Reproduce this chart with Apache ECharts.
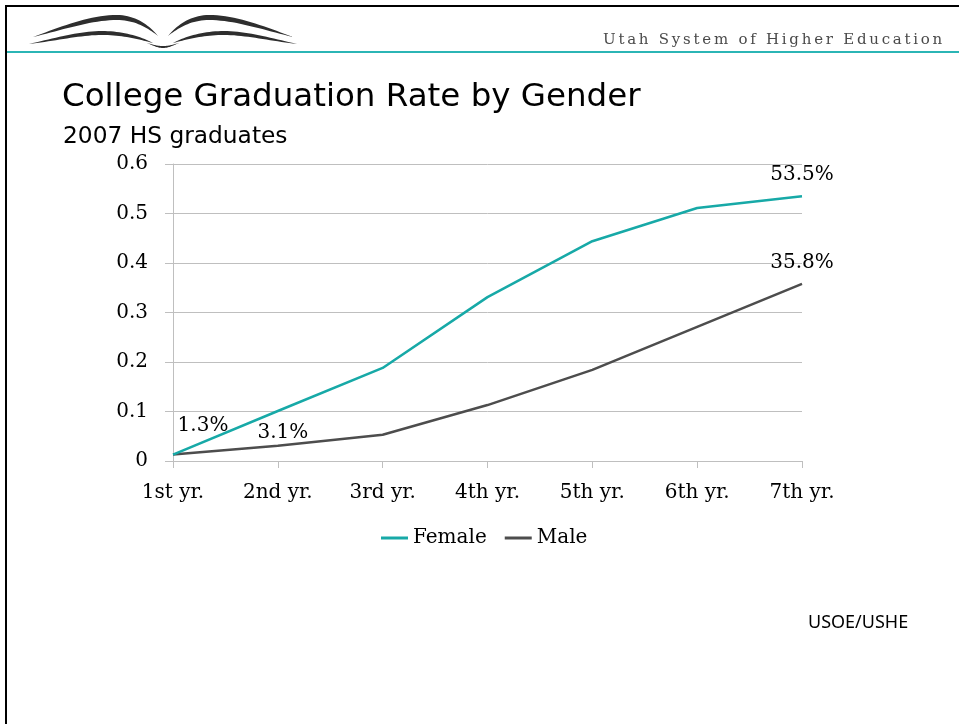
<!DOCTYPE html>
<html>
<head>
<meta charset="utf-8">
<script src="https://cdn.jsdelivr.net/npm/echarts@6/dist/echarts.min.js"></script>
<style>
html,body{margin:0;padding:0;background:#fff;}
#wrap{position:relative;width:959px;height:724px;overflow:hidden;}
#chart{position:absolute;left:0;top:0;width:959px;height:724px;}
#hdr{position:absolute;left:603px;top:30px;font-family:"DejaVu Serif",serif;font-size:15px;letter-spacing:2.75px;color:#4a4a4a;white-space:nowrap;}
</style>
</head>
<body>
<div id="wrap">
<div id="chart"></div>
<div id="hdr">Utah System of Higher Education</div>
</div>
<script>
const categories = ['1st yr.', '2nd yr.', '3rd yr.', '4th yr.', '5th yr.', '6th yr.', '7th yr.'];
const femaleValues = [0.013, 0.101, 0.188, 0.331, 0.444, 0.511, 0.535];
const maleValues = [0.013, 0.031, 0.053, 0.113, 0.184, 0.271, 0.358];
const yTicks = [0, 0.1, 0.2, 0.3, 0.4, 0.5, 0.6];

const serif = '"DejaVu Serif", serif';
const sans = '"DejaVu Sans", sans-serif';

function labelled(values, marks) {
  return values.map((v, i) => {
    if (!(i in marks)) return v;
    return {
      value: v,
      label: {
        show: true, position: 'top', distance: 5, offset: marks[i],
        fontFamily: serif, fontSize: 20, color: '#000',
        formatter: p => (p.value * 100).toFixed(1) + '%'
      }
    };
  });
}

// sample a closed shape made of cubic bezier segments into polygon points (logo decoration)
function bez(p0, c1, c2, p1, n) {
  const out = [];
  for (let k = 0; k <= n; k++) {
    const t = k / n, u = 1 - t;
    out.push([
      u*u*u*p0[0] + 3*u*u*t*c1[0] + 3*u*t*t*c2[0] + t*t*t*p1[0],
      u*u*u*p0[1] + 3*u*u*t*c1[1] + 3*u*t*t*c2[1] + t*t*t*p1[1]
    ]);
  }
  return out;
}
function shape(segs) {
  let pts = [];
  segs.forEach(s => { pts = pts.concat(bez(s[0], s[1], s[2], s[3], 20)); });
  return pts;
}
function mirror(pts) { return pts.map(p => [326 - p[0], p[1]]); }

const upperLeft = shape([
  [[33,37],[60,27],[90,15],[117,15]],
  [[117,15],[136,15],[150,26],[158,36]],
  [[158,36],[148,28],[135,20],[117,20]],
  [[117,20],[92,20],[62,30],[33,37]]
]);
const lowerLeft = shape([
  [[29,44],[55,38],[80,31],[102,31]],
  [[102,31],[122,31],[140,36],[153,43]],
  [[153,43],[138,39],[122,35],[102,35]],
  [[102,35],[80,35],[55,41],[29,44]]
]);
const joint = shape([
  [[147,43],[154,46],[158,48],[163,48]],
  [[163,48],[168,48],[172,46],[179,43]],
  [[179,43],[172,45],[168,46],[163,46]],
  [[163,46],[158,46],[154,45],[147,43]]
]);

const logoStyle = {fill: '#2e2e2e'};

const chart = echarts.init(document.getElementById('chart'), null, {renderer: 'canvas'});
chart.setOption({
  animation: false,
  backgroundColor: '#fff',
  title: [
    {text: 'College Graduation Rate by Gender', left: 62, top: 81, padding: 0,
     textStyle: {fontFamily: sans, fontSize: 32.5, fontWeight: 'normal', color: '#000'}},
    {text: '2007 HS graduates', left: 63, top: 125, padding: 0,
     textStyle: {fontFamily: sans, fontSize: 23.3, fontWeight: 'normal', color: '#000'}},
    {text: 'USOE/USHE', left: 808, top: 614, padding: 0,
     textStyle: {fontFamily: '"Noto Sans", sans-serif', fontSize: 18, fontWeight: 'normal', color: '#000'}}
  ],
  grid: {left: 173, right: 157, top: 164, bottom: 263, containLabel: false},
  legend: {
    data: ['Female', 'Male'], left: 381, top: 528, padding: 0,
    icon: 'rect', itemWidth: 27, itemHeight: 3, itemGap: 18,
    textStyle: {fontFamily: serif, fontSize: 20, color: '#000'}
  },
  xAxis: {
    type: 'category', data: categories, boundaryGap: false,
    axisLine: {lineStyle: {color: '#bfbfbf', width: 1}},
    axisTick: {show: true, length: 7, inside: false, lineStyle: {color: '#bfbfbf'}},
    axisLabel: {fontFamily: serif, fontSize: 20, color: '#000', margin: 22},
    splitLine: {show: false}
  },
  yAxis: {
    type: 'value', min: 0, max: 0.6, interval: 0.1,
    axisLine: {show: true, lineStyle: {color: '#bfbfbf', width: 1}},
    axisTick: {show: true, length: 8, lineStyle: {color: '#bfbfbf'}},
    axisLabel: {fontFamily: serif, fontSize: 20, color: '#000', margin: 25,
      formatter: v => String(Math.round(v * 10) / 10)},
    splitLine: {show: true, lineStyle: {color: '#bfbfbf', width: 1}}
  },
  series: [
    {name: 'Female', type: 'line', data: labelled(femaleValues, {0: [30, -14], 6: [0, -6]}),
     showSymbol: true, symbol: 'circle', symbolSize: 0.01, lineStyle: {color: '#17a9a7', width: 2.5},
     itemStyle: {color: '#17a9a7'}, z: 3},
    {name: 'Male', type: 'line', data: labelled(maleValues, {1: [5, 2], 6: [0, -6]}),
     showSymbol: true, symbol: 'circle', symbolSize: 0.01, lineStyle: {color: '#4d4d4d', width: 2.5},
     itemStyle: {color: '#4d4d4d'}, z: 2}
  ],
  graphic: [
    {type: 'rect', shape: {x: 5, y: 5, width: 954, height: 2}, style: {fill: '#000'}, silent: true},
    {type: 'rect', shape: {x: 5, y: 5, width: 2, height: 719}, style: {fill: '#000'}, silent: true},
    {type: 'rect', shape: {x: 7, y: 51, width: 952, height: 2}, style: {fill: '#2bb5b5'}, silent: true},
    {type: 'polygon', shape: {points: upperLeft}, style: logoStyle, silent: true},
    {type: 'polygon', shape: {points: lowerLeft}, style: logoStyle, silent: true},
    {type: 'polygon', shape: {points: mirror(upperLeft)}, style: logoStyle, silent: true},
    {type: 'polygon', shape: {points: mirror(lowerLeft)}, style: logoStyle, silent: true},
    {type: 'polygon', shape: {points: joint}, style: logoStyle, silent: true}
  ]
});
</script>
</body>
</html>
